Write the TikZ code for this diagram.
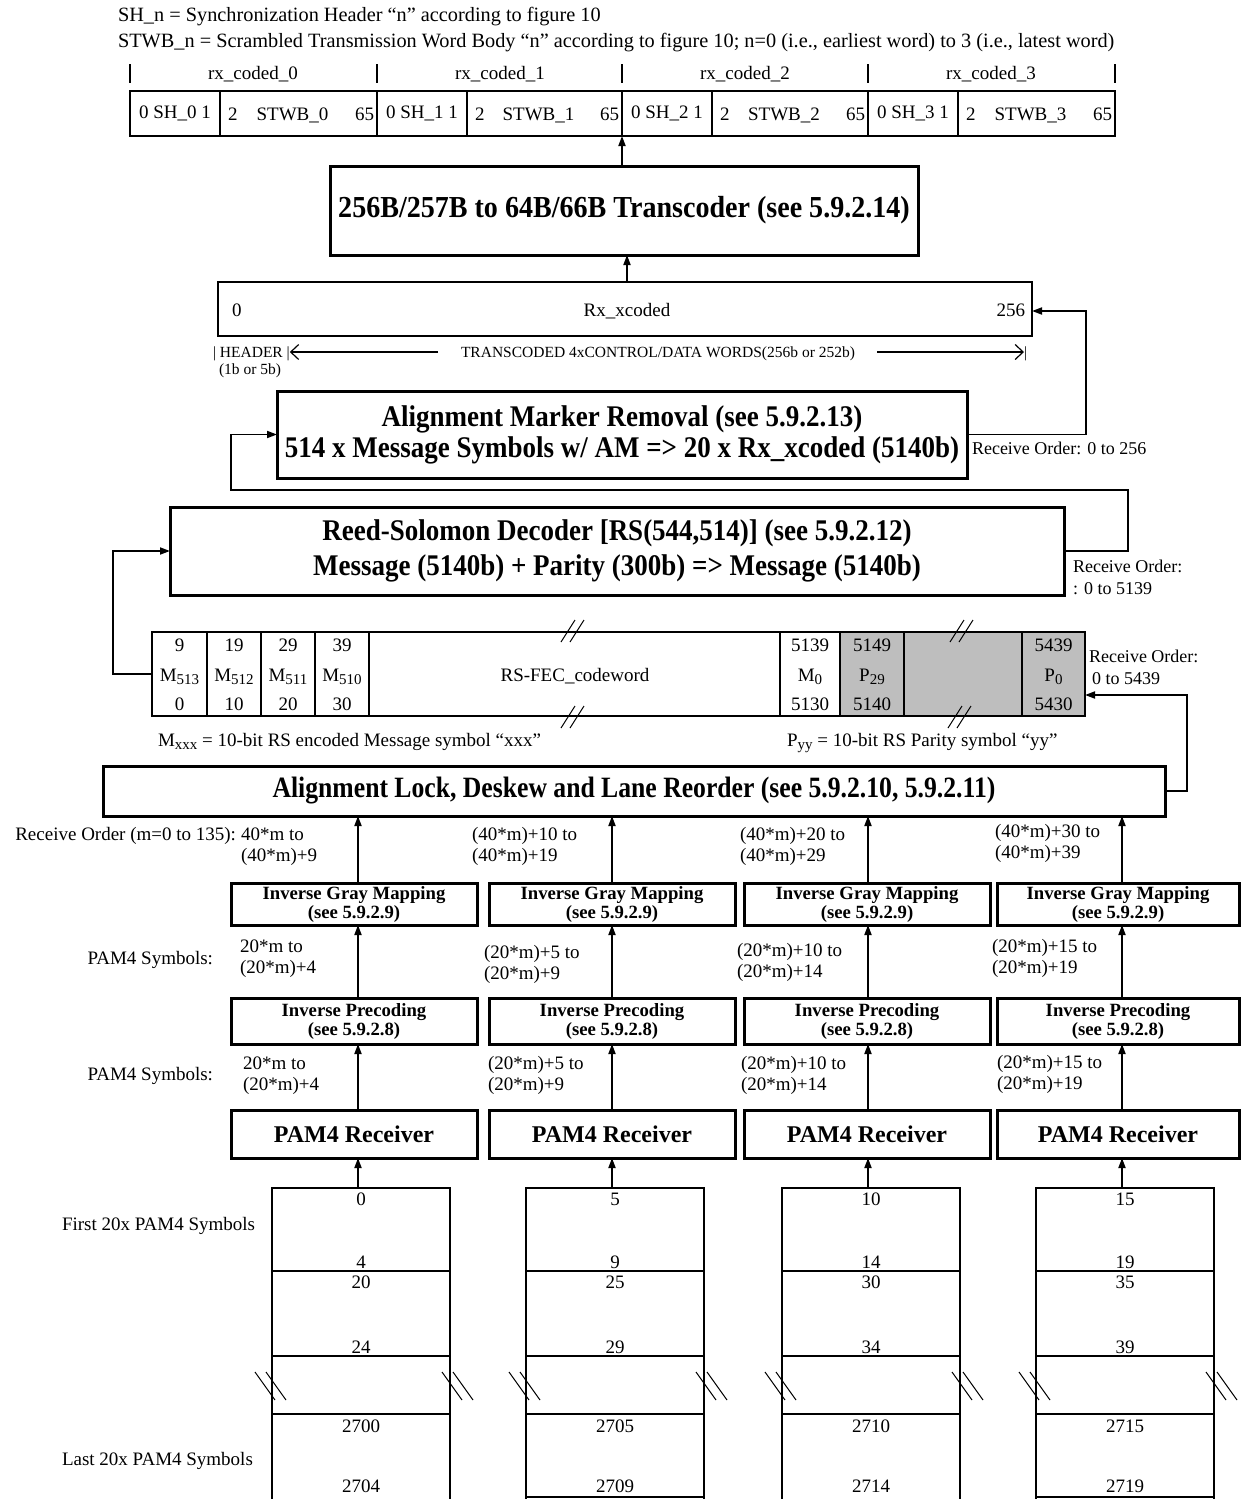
\documentclass[tikz,border=0pt]{standalone}
\usepackage{fontspec}
\setmainfont{Liberation Serif}
\newfontfamily\titlefont{Liberation Serif}[FakeStretch=0.9]
\newfontfamily\tctitlefont{Liberation Serif}[FakeStretch=0.92]
\newfontfamily\lockfont{Liberation Serif}[FakeStretch=0.87]
\usetikzlibrary{arrows.meta}
\definecolor{cwgray}{RGB}{190,190,190}
\newcommand{\setfs}[1]{\fontsize{#1}{#1}\selectfont}
\newcommand{\sub}[1]{\raisebox{-0.4ex}{\fontsize{15}{15}\selectfont #1}}

\begin{document}
\begin{tikzpicture}[x=1pt,y=-1pt,
  every node/.style={inner sep=0pt, outer sep=0pt},
  lbl/.style={font=\setfs{19}},
  legend/.style={font=\setfs{20.3}},
  note/.style={font=\setfs{15.5}},
  cell/.style={draw, line width=2pt, font=\setfs{19}},
  title/.style={draw, line width=3pt, align=center},
  lanebox/.style={draw, line width=3pt, align=center, font=\bfseries\fontsize{18.7}{19}\selectfont},
  rcvbox/.style={draw, line width=3pt, font=\bfseries\setfs{24}},
  colcell/.style={draw, line width=2pt, minimum width=178pt},
  conn/.style={line width=1.8pt},
  arr/.style={conn, -{Triangle[length=10pt,width=7pt]}},
  brk/.style={line width=1pt},
  barb/.style={line width=1.2pt, -{Straight Barb[length=8pt,width=15pt]}},
]
\useasboundingbox (0,0) rectangle (1241,1499);

% ---------- legend ----------
\node[legend, anchor=base west] (legsh) at (118,21) {SH\_n = Synchronization Header “n” according to figure 10};
\node[legend, anchor=base west] (legstwb) at (118,47) {STWB\_n = Scrambled Transmission Word Body “n” according to figure 10; n=0 (i.e., earliest word) to 3 (i.e., latest word)};

% ---------- rx_coded words ----------
\foreach \x in {130,377,622,868,1115} \draw[line width=1.3pt] (\x,64) -- (\x,83);
\foreach \i/\x in {0/253,1/500,2/745,3/991}
  \node[lbl, anchor=base] (rxc\i) at (\x,79) {rx\_coded\_\i};

\foreach \i/\l/\m/\r in {0/130/220/377,1/377/467/622,2/622/712/868,3/868/958/1115}{
  \pgfmathsetmacro\wa{\m-\l}
  \pgfmathsetmacro\wb{\r-\m}
  \node[cell, minimum width=\wa pt, minimum height=45pt, anchor=north west] (sh\i) at (\l,91) {0 SH\_\i\ 1};
  \node[cell, minimum width=\wb pt, minimum height=45pt, anchor=north west] (stwb\i) at (\m,91) {};
  \node[lbl, anchor=base west] (stwbl\i) at ([xshift=8pt,yshift=-7pt]stwb\i.west) {2};
  \node[lbl, anchor=base] (stwbm\i) at ([xshift=-6pt,yshift=-7pt]stwb\i.center) {STWB\_\i};
  \node[lbl, anchor=base east] (stwbr\i) at ([xshift=-3pt,yshift=-7pt]stwb\i.east) {65};
}

% ---------- transcoder ----------
\node[title, font=\tctitlefont\bfseries\setfs{30.5}, minimum width=588pt, minimum height=89pt] (tc) at (624,210.5)
  {256B/257B to 64B/66B Transcoder (see 5.9.2.14)};
\draw[arr] (tc.north -| sh2.south west) -- (sh2.south west);

% ---------- Rx_xcoded ----------
\node[draw, line width=2.2pt, minimum width=814pt, minimum height=54pt] (rxx) at (625,309) {};
\node[lbl, anchor=base] (rxxname) at (627,316) {Rx\_xcoded};
\node[lbl, anchor=base west] (rxx0) at (232,316) {0};
\node[lbl, anchor=base east] (rxx256) at (1025,316) {256};
\draw[arr] (rxx.north -| tc.south) ++(3,0) coordinate (rxxtop) -- (rxxtop |- tc.south);

\node[note, anchor=base west] (hdr) at (213,357) {| HEADER |};
\node[note, anchor=base] (hdrtxt) at (658,357) {TRANSCODED 4xCONTROL/DATA WORDS(256b or 252b)};
\node[note, anchor=base west] (hdrend) at (1024,357) {|};
\node[note, anchor=base west] (hdrsz) at (219,374) {(1b or 5b)};
\coordinate (la) at (438,352);
\coordinate (lb) at (877,352);
\draw[barb] (la) -- (hdr.east |- la);
\draw[barb] (lb) -- (hdrend.west |- lb);

% ---------- alignment marker removal ----------
\node[title, font=\titlefont\bfseries\fontsize{30}{31}\selectfont, minimum width=690pt, minimum height=87pt] (amr) at (622,434.5)
  {Alignment Marker Removal (see 5.9.2.13)\\514 x Message Symbols w/ AM => 20 x Rx\_xcoded (5140b)};
\node[lbl, font=\setfs{18}, anchor=base west] (ro1) at (972,454) {Receive Order: 0 to 256};
\coordinate (fbA) at (1086,311);
\draw[arr] (amr.east) -| (fbA) -- (rxx.east |- fbA);

% ---------- Reed-Solomon decoder ----------
\node[title, font=\titlefont\bfseries\fontsize{30}{35}\selectfont, minimum width=894pt, minimum height=88pt] (rs) at (617,551)
  {Reed-Solomon Decoder [RS(544,514)] (see 5.9.2.12)\\Message (5140b) + Parity (300b) => Message (5140b)};
\node[lbl, font=\setfs{18}, anchor=base west] (ro2a) at (1073,572) {Receive Order:};
\node[lbl, font=\setfs{18}, anchor=base west] (ro2b) at (1073,594) {: 0 to 5139};
\coordinate (fbB1) at (1128,490);
\coordinate (fbB2) at (231,490);
\draw[arr] (rs.east) -| (fbB1) -- (fbB2) |- (amr.west);

% ---------- RS-FEC codeword ----------
\foreach \n/\l/\r/\fill in {1/152/207/white,2/207/261/white,3/261/315/white,4/315/369/white,
    5/369/780/white,6/780/840/white,7/840/904/cwgray,8/904/1022/cwgray,9/1022/1085/cwgray}{
  \pgfmathsetmacro\w{\r-\l}
  \node[draw, line width=2pt, fill=\fill, minimum width=\w pt, minimum height=84pt, anchor=north west] (cw\n) at (\l,632) {};
}
\foreach \n/\t/\m/\b in {1/9/M\sub{513}/0, 2/19/M\sub{512}/10, 3/29/M\sub{511}/20, 4/39/M\sub{510}/30,
    6/5139/M\sub{0}/5130, 7/5149/P\sub{29}/5140, 9/5439/P\sub{0}/5430}{
  \node[lbl, anchor=base] (cwt\n) at (cw\n.center |- 0,651) {\t};
  \node[lbl, anchor=base] (cwm\n) at (cw\n.center |- 0,681) {\m};
  \node[lbl, anchor=base] (cwb\n) at (cw\n.center |- 0,710) {\b};
}
\node[lbl, anchor=base] (cwname) at (575,681) {RS-FEC\_codeword};
\foreach \x/\y in {561/642, 561/728, 950/642, 948/728}{
  \draw[brk] (\x,\y) -- ++(14,-22);
  \draw[brk] (\x+9,\y) -- ++(14,-22);
}
\node[lbl, anchor=base west] (mdef) at (158,746) {M\sub{xxx} = 10-bit RS encoded Message symbol “xxx”};
\node[lbl, anchor=base west] (pdef) at (787,746) {P\sub{yy} = 10-bit RS Parity symbol “yy”};
\node[lbl, font=\setfs{18}, anchor=base west] (ro3a) at (1089,662) {Receive Order:};
\node[lbl, font=\setfs{18}, anchor=base west] (ro3b) at (1092,684) {0 to 5439};
\coordinate (fbC) at (113,551);
\draw[arr] (cw1.west) -| (fbC) -- (rs.west);

% ---------- alignment lock ----------
\node[title, font=\lockfont\bfseries\setfs{29.5}, minimum width=1062pt, minimum height=50pt] (alk) at (634,791)
  {Alignment Lock, Deskew and Lane Reorder (see 5.9.2.10, 5.9.2.11)};
\coordinate (fbD) at (1187,695);
\draw[arr] (alk.east) -| (fbD) -- (cw9.east |- fbD);

% ---------- side captions ----------
\node[lbl, anchor=base east] (cap1) at (236,840) {Receive Order (m=0 to 135):};
\node[lbl, anchor=base east] (cap2) at (213,964) {PAM4 Symbols:};
\node[lbl, anchor=base east] (cap3) at (213,1080) {PAM4 Symbols:};
\node[lbl, anchor=base west] (cap4) at (62,1230) {First 20x PAM4 Symbols};
\node[lbl, anchor=base west] (cap5) at (62,1465) {Last 20x PAM4 Symbols};

% ---------- lanes ----------
\foreach \i/\a/\bl/\br/\f/\closed in {0/358/231/477/0/0, 1/612/489/735/5/1, 2/868/744/990/10/0, 3/1122/997/1239/15/1}{
  \pgfmathsetmacro\bw{\br-\bl}
  \pgfmathsetmacro\bc{(\br+\bl)/2}
  \coordinate (ax\i) at (\a,0);
  \node[lanebox, minimum width=\bw pt, minimum height=42pt] (gm\i) at (\bc,904)
    {Inverse Gray Mapping\\(see 5.9.2.9)};
  \node[lanebox, minimum width=\bw pt, minimum height=46pt] (pc\i) at (\bc,1021)
    {Inverse Precoding\\(see 5.9.2.8)};
  \node[rcvbox, minimum width=\bw pt, minimum height=48pt] (rc\i) at (\bc,1134) {PAM4 Receiver};
  \draw[arr] (gm\i.north -| ax\i) -- (alk.south -| ax\i);
  \draw[arr] (pc\i.north -| ax\i) -- (gm\i.south -| ax\i);
  \draw[arr] (rc\i.north -| ax\i) -- (pc\i.south -| ax\i);
  % symbol columns
  \node[colcell, minimum height=83pt, anchor=north] (ca\i) at (\a+3,1188) {};
  \node[colcell, minimum height=85pt, anchor=north] (cb\i) at (ca\i.south) {};
  \node[colcell, minimum height=58pt, anchor=north] (cc\i) at (cb\i.south) {};
  \node[minimum width=178pt, minimum height=90pt, anchor=north] (cd\i) at (cc\i.south) {};
  \draw[line width=2pt] (cd\i.north west) -- (cd\i.south west) (cd\i.north east) -- (cd\i.south east);
  \ifnum\closed=1
    \draw[line width=2pt] ([yshift=7pt]cd\i.south west) -- ([yshift=7pt]cd\i.south east);
  \fi
  \draw[arr] (ca\i.north -| ax\i) -- (rc\i.south -| ax\i);
  \pgfmathtruncatemacro\fa{\f+4}
  \pgfmathtruncatemacro\fb{\f+20}
  \pgfmathtruncatemacro\fc{\f+24}
  \pgfmathtruncatemacro\fd{\f+2700}
  \pgfmathtruncatemacro\fe{\f+2704}
  \node[lbl, anchor=base] (na\i) at (ca\i.north |- 0,1205) {\f};
  \node[lbl, anchor=base] (nb\i) at (ca\i.north |- 0,1268) {\fa};
  \node[lbl, anchor=base] (nc\i) at (ca\i.north |- 0,1288) {\fb};
  \node[lbl, anchor=base] (nd\i) at (ca\i.north |- 0,1353) {\fc};
  \node[lbl, anchor=base] (ne\i) at (ca\i.north |- 0,1432) {\fd};
  \node[lbl, anchor=base] (nf\i) at (ca\i.north |- 0,1492) {\fe};
  \draw[brk] ([shift={(-17,-13)}]cc\i.west) -- ++(20,28) ([shift={(-6,-13)}]cc\i.west) -- ++(20,28);
  \draw[brk] ([shift={(-8,-13)}]cc\i.east) -- ++(20,28) ([shift={(3,-13)}]cc\i.east) -- ++(20,28);
}

% ---------- lane order labels ----------
\foreach \i/\x/\y/\ta/\tb in {0/241/840/40*m to/(40*m)+9, 1/472/840/(40*m)+10 to/(40*m)+19,
    2/740/840/(40*m)+20 to/(40*m)+29, 3/995/837/(40*m)+30 to/(40*m)+39}{
  \node[lbl, anchor=base west] (roa\i) at (\x,\y) {\ta};
  \node[lbl, anchor=base west] (rob\i) at (\x,\y+21) {\tb};
}
\foreach \i/\x/\y/\ta/\tb in {0/240/952/20*m to/(20*m)+4, 1/484/958/(20*m)+5 to/(20*m)+9,
    2/737/956/(20*m)+10 to/(20*m)+14, 3/992/952/(20*m)+15 to/(20*m)+19}{
  \node[lbl, anchor=base west] (psa\i) at (\x,\y) {\ta};
  \node[lbl, anchor=base west] (psb\i) at (\x,\y+21) {\tb};
}
\foreach \i/\x/\y/\ta/\tb in {0/243/1069/20*m to/(20*m)+4, 1/488/1069/(20*m)+5 to/(20*m)+9,
    2/741/1069/(20*m)+10 to/(20*m)+14, 3/997/1068/(20*m)+15 to/(20*m)+19}{
  \node[lbl, anchor=base west] (pta\i) at (\x,\y) {\ta};
  \node[lbl, anchor=base west] (ptb\i) at (\x,\y+21) {\tb};
}
\end{tikzpicture}
\end{document}
